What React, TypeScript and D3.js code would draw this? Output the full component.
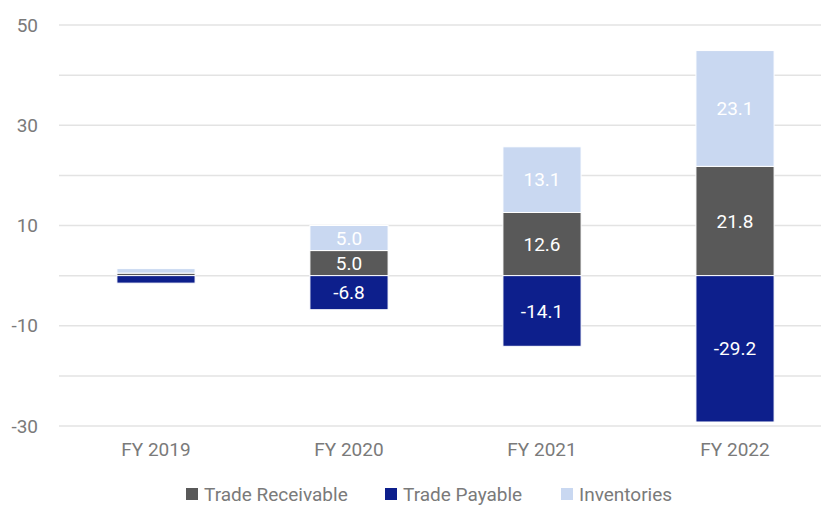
import { useMemo } from "react";
import * as d3 from "d3";

const categories = ["FY 2019", "FY 2020", "FY 2021", "FY 2022"];
const tradeReceivable = [0.5, 5.0, 12.6, 21.8];
const tradePayable = [-1.5, -6.8, -14.1, -29.2];
const inventories = [0.9, 5.0, 13.1, 23.1];
const yTicks = [-30, -20, -10, 0, 10, 20, 30, 40, 50];
const yLabels = [-30, -10, 10, 30, 50];

const W = 821;
const H = 505;
const FONT = "Roboto, 'Noto Sans', sans-serif";
const TEXT = "#7a7a7a";
const FS = 19;

const series = [
  { name: "Trade Receivable", values: tradeReceivable, color: "#595959" },
  { name: "Trade Payable", values: tradePayable, color: "#0d1f8c" },
  { name: "Inventories", values: inventories, color: "#c9d8f1" },
];

export default function App() {
  const x = useMemo(
    () => d3.scaleBand().domain(categories).range([59, 832]).paddingInner(0.595).paddingOuter(0.3),
    []
  );
  const y = useMemo(() => d3.scaleLinear().domain([-30, 50]).range([426, 25]), []);

  // stack: positives upward, negatives downward
  const segs: { cat: string; y0: number; y1: number; v: number; color: string }[] = [];
  categories.forEach((c, i) => {
    let pos = 0;
    let neg = 0;
    for (const s of series) {
      const v = s.values[i];
      if (v >= 0) {
        segs.push({ cat: c, y0: pos, y1: pos + v, v, color: s.color });
        pos += v;
      } else {
        segs.push({ cat: c, y0: neg, y1: neg + v, v, color: s.color });
        neg += v;
      }
    }
  });

  const legendItems = [
    { x: 186, s: series[0] },
    { x: 385, s: series[1] },
    { x: 561, s: series[2] },
  ];

  return (
    <svg width={W} height={H} style={{ position: "absolute", left: 0, top: 0, fontFamily: FONT }}>
      <rect width={W} height={H} fill="#fff" />
      {yTicks.map((t) => (
        <line key={t} x1={59} x2={W} y1={y(t)} y2={y(t)} stroke="#e3e3e3" strokeWidth={1.5} />
      ))}
      {yLabels.map((t) => (
        <text key={t} x={38} y={y(t)} dy="0.35em" textAnchor="end" fontSize={FS} fill={TEXT}>
          {t}
        </text>
      ))}
      {segs.map((d, i) => {
        const top = y(Math.max(d.y0, d.y1));
        const bot = y(Math.min(d.y0, d.y1));
        const h = bot - top;
        return (
          <g key={i}>
            <rect
              x={x(d.cat)}
              y={top}
              width={x.bandwidth()}
              height={h}
              fill={d.color}
              stroke="#fff"
              strokeWidth={1}
            />
            {h > 16 && (
              <text
                x={(x(d.cat) as number) + x.bandwidth() / 2}
                y={(top + bot) / 2}
                dy="0.35em"
                textAnchor="middle"
                fontSize={FS}
                fill="#fff"
              >
                {d.v.toFixed(1)}
              </text>
            )}
          </g>
        );
      })}
      {categories.map((c) => (
        <text
          key={c}
          x={(x(c) as number) + x.bandwidth() / 2}
          y={449}
          dy="0.35em"
          textAnchor="middle"
          fontSize={FS}
          fill={TEXT}
        >
          {c}
        </text>
      ))}
      {legendItems.map(({ x: lx, s }) => (
        <g key={s.name}>
          <rect x={lx} y={488} width={12} height={12} fill={s.color} />
          <text x={lx + 18} y={494} dy="0.35em" fontSize={FS} fill={TEXT}>
            {s.name}
          </text>
        </g>
      ))}
    </svg>
  );
}
